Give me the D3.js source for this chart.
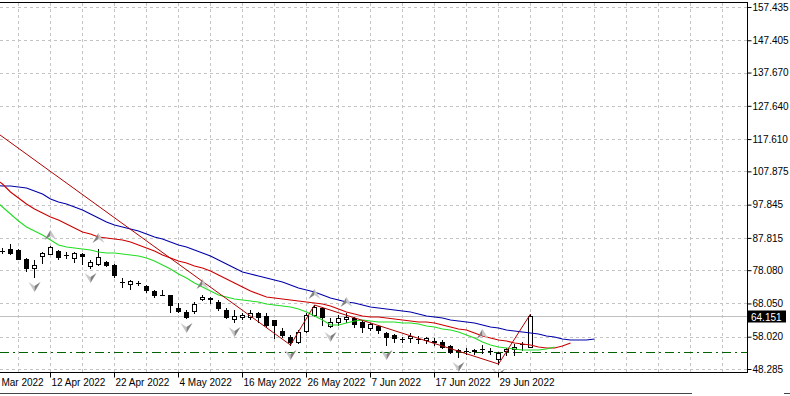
<!DOCTYPE html>
<html>
<head>
<meta charset="utf-8">
<script src="https://cdnjs.cloudflare.com/ajax/libs/d3/7.8.5/d3.min.js"></script>
<style>
  html, body { margin: 0; padding: 0; background: #fff; }
  body { width: 790px; height: 396px; overflow: hidden; }
  svg { display: block; font-family: "Liberation Sans", Arial, sans-serif; font-size: 10px; }
</style>
</head>
<body>
<script>
const width = 790;
const height = 396;

// daily bars, 4 Apr 2022 .. 5 Jul 2022 (bar index 0..66)
const opens = [83.9, 84.46, 84.16, 81.45, 78.73, 82.35, 82.96, 83.86, 82.65, 81.75,
  82.96, 79.34, 79.94, 80.54, 79.64, 74.51, 73.91, 74.21, 73.31, 71.80,
  70.59, 70.59, 66.67, 65.46, 65.77, 69.38, 69.69, 68.48, 66.07, 63.35,
  63.96, 63.96, 65.16, 64.26, 63.05, 59.73, 57.92, 56.42, 59.73, 64.56,
  66.67, 61.24, 62.45, 63.35, 63.65, 62.45, 60.64, 61.24, 59.13, 58.53,
  57.32, 57.62, 57.32, 57.02, 56.72, 56.42, 55.21, 54.00, 53.70, 54.00,
  54.30, 53.70, 51.29, 53.70, 54.30, 55.81, 54.91];
const highs = [84.77, 85.97, 84.46, 81.75, 81.15, 83.56, 85.37, 84.16, 83.56, 83.56,
  83.26, 81.15, 84.46, 80.85, 79.94, 75.72, 75.11, 74.81, 73.61, 72.10,
  72.10, 70.59, 68.18, 66.07, 68.48, 70.59, 69.99, 69.08, 66.67, 66.07,
  65.16, 66.07, 65.46, 65.16, 63.05, 60.64, 58.53, 60.04, 65.16, 67.58,
  66.97, 63.65, 64.56, 65.16, 63.96, 63.05, 62.15, 61.54, 59.43, 58.83,
  57.92, 59.13, 58.23, 57.92, 57.62, 57.02, 55.51, 54.30, 54.61, 54.30,
  55.51, 54.61, 53.40, 54.61, 55.81, 56.42, 64.86];
const lows = [83.26, 82.96, 81.45, 77.83, 76.02, 80.24, 82.96, 81.45, 81.75, 80.54,
  79.94, 78.73, 79.64, 79.34, 76.02, 73.00, 72.40, 73.61, 71.50, 69.99,
  70.55, 65.46, 65.46, 63.65, 65.16, 69.08, 68.18, 66.07, 63.65, 62.45,
  63.35, 63.35, 62.45, 60.94, 57.62, 57.92, 55.51, 56.11, 59.43, 64.26,
  61.54, 60.94, 61.54, 62.45, 60.94, 59.43, 60.04, 59.13, 55.51, 56.42,
  56.42, 56.42, 56.11, 56.11, 55.51, 54.61, 53.10, 51.89, 52.80, 52.80,
  53.10, 52.80, 49.78, 52.50, 52.50, 54.00, 54.91];
const closes = [83.95, 83.26, 81.45, 78.73, 79.64, 83.26, 85.07, 82.05, 82.6, 83.26,
  82.35, 80.54, 82.05, 79.64, 76.62, 74.45, 74.81, 74.15, 72.10, 70.59,
  70.55, 67.58, 65.77, 63.96, 67.88, 69.99, 69.3, 66.67, 63.96, 64.26,
  64.56, 65.16, 63.96, 61.54, 61.54, 58.53, 56.42, 59.43, 64.56, 66.97,
  63.96, 62.45, 63.65, 63.96, 61.85, 60.94, 61.85, 60.04, 57.92, 57.62,
  57.28, 58.23, 57.36, 57.62, 56.42, 54.91, 53.40, 53.70, 53.66, 53.70,
  54.26, 53.74, 53.10, 54.30, 54.91, 55.85, 64.151];

// Alligator lines, first value sits on bar -1 (already shifted forward)
const jaw = [103.76, 103.46, 103.46, 103.16, 102.86, 101.95, 101.05, 99.54, 98.64, 98.04,
  97.13, 96.23, 95.02, 93.81, 92.61, 91.70, 91.10, 90.50, 89.89, 88.99,
  88.08, 87.48, 86.57, 85.67, 85.07, 84.16, 83.26, 82.35, 81.15, 79.94,
  78.73, 77.53, 76.92, 76.32, 75.72, 75.11, 74.51, 73.61, 72.70, 72.10,
  71.50, 70.59, 69.69, 69.08, 68.48, 68.18, 67.58, 66.97, 66.67, 66.37,
  66.07, 65.77, 65.46, 64.86, 64.26, 63.96, 63.65, 63.05, 62.75, 62.45,
  62.15, 61.54, 60.94, 60.64, 60.04, 59.73, 59.43, 59.13, 58.83, 58.23,
  57.92, 57.32, 57.02, 57.02, 57.02, 57.32];
const teeth = [105.87, 104.06, 101.65, 99.84, 98.04, 96.53, 95.32, 94.11, 93.21, 92.00,
  90.80, 89.59, 88.99, 88.08, 87.78, 87.48, 87.18, 86.57, 85.67, 84.77,
  83.86, 82.65, 81.75, 80.85, 80.24, 79.34, 78.73, 77.83, 76.62, 75.42,
  74.21, 73.00, 71.80, 70.89, 69.99, 69.69, 69.38, 69.08, 68.78, 68.48,
  68.18, 67.88, 67.27, 66.37, 65.46, 64.86, 64.26, 63.96, 63.96, 63.65,
  63.35, 63.05, 62.75, 62.45, 62.45, 62.15, 61.54, 60.94, 60.34, 60.04,
  59.13, 58.23, 57.62, 57.02, 56.72, 56.11, 55.81, 55.51, 54.91, 54.61,
  54.61, 55.21, 56.11];
const lips = [99.24, 97.13, 95.02, 92.91, 91.10, 89.89, 88.69, 87.18, 85.67, 85.07,
  84.77, 84.46, 84.16, 83.56, 83.26, 83.26, 82.96, 82.65, 82.35, 81.75,
  80.85, 79.64, 78.43, 76.92, 75.72, 74.21, 73.00, 71.80, 70.59, 69.99,
  69.38, 69.08, 68.78, 68.48, 67.88, 67.58, 67.27, 66.97, 66.37, 65.46,
  64.26, 63.05, 61.54, 61.54, 62.15, 62.75, 63.05, 62.75, 62.45, 62.45,
  62.45, 62.15, 62.15, 61.85, 61.24, 60.94, 60.34, 60.04, 59.43, 58.53,
  57.62, 56.42, 55.51, 54.91, 54.61, 54.30, 54.00, 54.00, 54.00, 54.30,
  54.91];

const fractalUp = [6, 12, 25, 39, 43, 60];
const fractalDown = [4, 11, 23, 29, 36, 41, 48, 57, 62];

const zigzagBars = [-20, 36, 39, 62, 66];
const zigzagPrices = [153.2, 55.51, 67.58, 49.78, 64.86];

const levelPrice = 53.40;
const bidPrice = 64.151;

const priceTicks = [157.435, 147.405, 137.670, 127.640, 117.610, 107.875,
  97.845, 87.815, 78.080, 68.050, 58.020, 48.285];
const dateTickBars = [-2, 6, 14, 22, 30, 38, 46, 54, 62];
const dateTickLabels = ["31 Mar 2022", "12 Apr 2022", "22 Apr 2022", "4 May 2022",
  "16 May 2022", "26 May 2022", "7 Jun 2022", "17 Jun 2022", "29 Jun 2022"];

const PLOT_RIGHT = 747;
const PLOT_TOP = 3;
const PLOT_BOTTOM = 372;

const x = d3.scaleLinear().domain([0, 66]).range([2.5, 530.5]);
const y = d3.scaleLinear().domain([48.285, 157.435]).range([369, 7]);

const crisp = (v) => Math.round(v) + 0.5;
const col = (i) => Math.floor(x(i));

function buildCandles() {
  return opens.map((o, i) => ({ i, o, h: highs[i], l: lows[i], c: closes[i] }));
}

function setupChart() {
  const svg = d3.create("svg")
    .attr("width", width)
    .attr("height", height)
    .attr("viewBox", [0, 0, width, height]);

  svg.append("defs").append("clipPath").attr("id", "plot")
    .append("rect")
    .attr("x", 0).attr("y", PLOT_TOP)
    .attr("width", PLOT_RIGHT).attr("height", PLOT_BOTTOM - PLOT_TOP);

  // grid
  const grid = svg.append("g").attr("stroke", "#c4c4c4").attr("stroke-dasharray", "3,3");
  grid.selectAll(".hgrid")
    .data(priceTicks)
    .join("line")
    .attr("x1", 0).attr("x2", PLOT_RIGHT)
    .attr("y1", (d) => crisp(y(d))).attr("y2", (d) => crisp(y(d)));
  const gridBars = d3.range(-2, 92, 4);
  grid.selectAll(".vgrid")
    .data(gridBars)
    .join("line")
    .attr("x1", (d) => col(d) + 0.5).attr("x2", (d) => col(d) + 0.5)
    .attr("y1", PLOT_TOP).attr("y2", PLOT_BOTTOM);

  const plot = svg.append("g").attr("clip-path", "url(#plot)");

  // bid line and horizontal level
  plot.append("line")
    .attr("x1", 0).attr("x2", PLOT_RIGHT)
    .attr("y1", crisp(y(bidPrice))).attr("y2", crisp(y(bidPrice)))
    .attr("stroke", "#c0c0c0");
  plot.append("line")
    .attr("x1", 0).attr("x2", PLOT_RIGHT)
    .attr("y1", crisp(y(levelPrice))).attr("y2", crisp(y(levelPrice)))
    .attr("stroke", "#006400")
    .attr("stroke-dasharray", "9,4,2,4");

  // candles
  const candles = plot.append("g")
    .selectAll("g")
    .data(buildCandles())
    .join("g");

  candles.append("line")
    .attr("x1", (d) => col(d.i) + 0.5).attr("x2", (d) => col(d.i) + 0.5)
    .attr("y1", (d) => Math.round(y(d.h))).attr("y2", (d) => Math.round(y(d.l)) + 1)
    .attr("stroke", "#000");

  candles.each(function (d) {
    const g = d3.select(this);
    const c = col(d.i);
    const top = Math.round(y(Math.max(d.o, d.c)));
    const bot = Math.round(y(Math.min(d.o, d.c)));
    if (bot - top < 1) {
      g.append("line")
        .attr("x1", c - 2).attr("x2", c + 3)
        .attr("y1", top + 0.5).attr("y2", top + 0.5)
        .attr("stroke", "#000");
    } else if (d.c > d.o) {
      g.append("rect")
        .attr("x", c - 1.5).attr("y", top + 0.5)
        .attr("width", 4).attr("height", bot - top)
        .attr("fill", "#fff").attr("stroke", "#000");
    } else {
      g.append("rect")
        .attr("x", c - 2).attr("y", top)
        .attr("width", 5).attr("height", bot - top + 1)
        .attr("fill", "#000");
    }
  });

  // alligator
  const line = (start) => d3.line()
    .x((_, k) => x(start + k))
    .y((v) => y(v));
  plot.append("path").attr("d", line(-1)(jaw))
    .attr("fill", "none").attr("stroke", "#0000a8").attr("stroke-width", 1.1);
  plot.append("path").attr("d", line(-1)(teeth))
    .attr("fill", "none").attr("stroke", "#cc0000").attr("stroke-width", 1.1);
  plot.append("path").attr("d", line(-1)(lips))
    .attr("fill", "none").attr("stroke", "#22dd22").attr("stroke-width", 1.1);

  // zigzag
  plot.append("path")
    .attr("d", d3.line()(zigzagBars.map((b, k) => [x(b), y(zigzagPrices[k])])))
    .attr("fill", "none").attr("stroke", "#b00000").attr("stroke-width", 1);

  // fractals
  const arrowUp = (cx, t) =>
    [[`M${cx},${t}L${cx - 6},${t + 10}L${cx},${t + 6}Z`, "#808080"],
     [`M${cx},${t}L${cx + 6},${t + 10}L${cx},${t + 6}Z`, "#c8c8c8"]];
  const arrowDown = (cx, b) =>
    [[`M${cx},${b}L${cx - 6},${b - 10}L${cx},${b - 6}Z`, "#c8c8c8"],
     [`M${cx},${b}L${cx + 6},${b - 10}L${cx},${b - 6}Z`, "#808080"]];
  const fr = plot.append("g");
  fractalUp.forEach((i) => {
    arrowUp(col(i) + 0.5, Math.round(y(highs[i])) - 16).forEach(([d, f]) =>
      fr.append("path").attr("d", d).attr("fill", f));
  });
  fractalDown.forEach((i) => {
    arrowDown(col(i) + 0.5, Math.round(y(lows[i])) + 15).forEach(([d, f]) =>
      fr.append("path").attr("d", d).attr("fill", f));
  });

  // price axis
  const yAxis = d3.axisRight(y)
    .tickValues(priceTicks)
    .tickFormat(d3.format(".3f"))
    .tickSize(4)
    .tickPadding(1)
    .tickSizeOuter(0);
  const ya = svg.append("g")
    .attr("transform", `translate(${PLOT_RIGHT + 0.5},0)`)
    .call(yAxis);
  ya.select(".domain").remove();
  ya.selectAll(".tick line").attr("stroke", "#000");
  ya.selectAll(".tick text")
    .attr("fill", "#000")
    .style("font-family", "'Liberation Sans', Arial, sans-serif")
    .style("font-size", "10px");

  // bid label
  const by = crisp(y(bidPrice));
  svg.append("rect")
    .attr("x", PLOT_RIGHT + 1).attr("y", by - 6)
    .attr("width", 38).attr("height", 12)
    .attr("fill", "#000");
  svg.append("text")
    .attr("x", PLOT_RIGHT + 4).attr("y", by + 4)
    .attr("fill", "#fff")
    .text(bidPrice.toFixed(3));

  // date axis
  const xAxis = d3.axisBottom(x)
    .tickValues(dateTickBars)
    .tickFormat((_, k) => dateTickLabels[k])
    .tickSize(5)
    .tickSizeOuter(0);
  const xa = svg.append("g")
    .attr("transform", `translate(0,${PLOT_BOTTOM + 0.5})`)
    .call(xAxis);
  xa.select(".domain").remove();
  xa.selectAll(".tick").attr("transform", (d) => `translate(${col(d) + 0.5},0)`);
  xa.selectAll(".tick line").attr("stroke", "#000");
  xa.selectAll(".tick text")
    .attr("text-anchor", "start")
    .attr("x", 1)
    .attr("y", 6)
    .attr("fill", "#000")
    .style("font-family", "'Liberation Sans', Arial, sans-serif")
    .style("font-size", "10px");

  // frame
  const frame = svg.append("g").attr("stroke", "#000");
  frame.append("line").attr("x1", 0).attr("x2", PLOT_RIGHT + 1)
    .attr("y1", PLOT_TOP - 0.5).attr("y2", PLOT_TOP - 0.5);
  frame.append("line").attr("x1", PLOT_RIGHT + 0.5).attr("x2", PLOT_RIGHT + 0.5)
    .attr("y1", PLOT_TOP - 1).attr("y2", PLOT_BOTTOM + 1);
  frame.append("line").attr("x1", 0).attr("x2", PLOT_RIGHT + 1)
    .attr("y1", PLOT_BOTTOM + 0.5).attr("y2", PLOT_BOTTOM + 0.5);
  frame.append("line").attr("x1", 0).attr("x2", 692)
    .attr("y1", 393.5).attr("y2", 393.5).attr("stroke", "#444");
  frame.append("line").attr("x1", 784).attr("x2", 790)
    .attr("y1", 393.5).attr("y2", 393.5).attr("stroke", "#444");

  return svg.node();
}

document.body.appendChild(setupChart());
</script>
</body>
</html>
